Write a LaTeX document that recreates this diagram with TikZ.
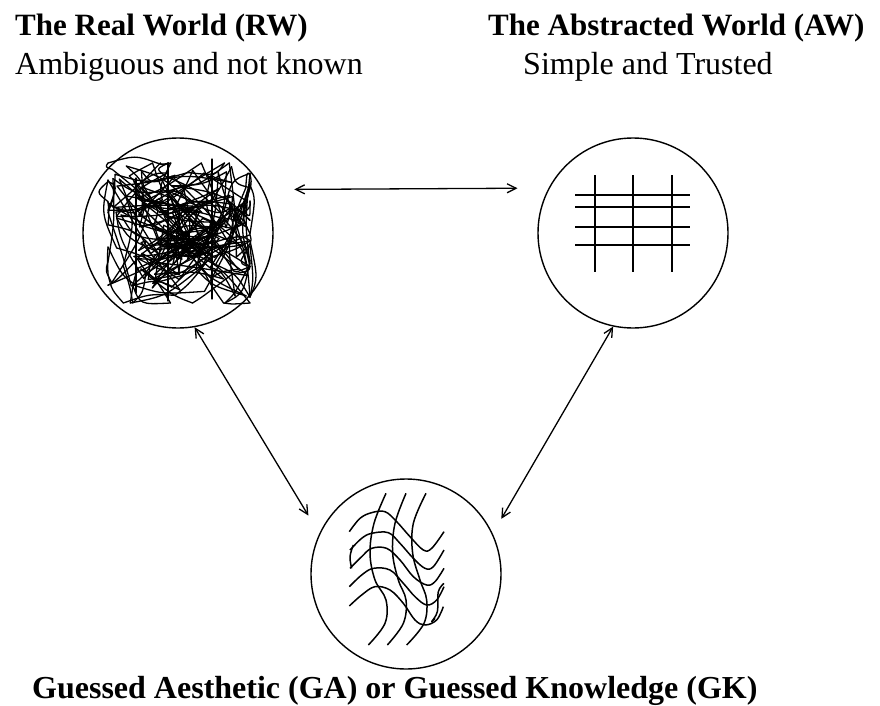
\documentclass[tikz,border=0pt]{standalone}
\usepackage{fontspec}
\setmainfont{Liberation Serif}
\usetikzlibrary{arrows.meta,positioning}

\begin{document}
\begin{tikzpicture}[x=1pt, y=-1pt,
    world/.style={draw, circle, line width=1.4pt, minimum size=190pt, inner sep=0pt},
    link/.style={{Straight Barb[length=9pt,width=9pt]}-{Straight Barb[length=9pt,width=9pt]}, line width=1.3pt},
    heading/.style={font=\fontsize{31}{36}\selectfont\bfseries, anchor=base west, inner sep=0pt},
    subheading/.style={font=\fontsize{32}{36}\selectfont, anchor=base west, inner sep=0pt}]
    \useasboundingbox (0,0) rectangle (880,706);

    % the three worlds
    \node[world] (rw) at (178,233) {};
    \node[world] (aw) at (633,233) {};
    \node[world] (ga) at (406,574) {};

    % labels
    \node[heading] (rwtitle) at (15,36) {The Real World (RW)};
    \node[subheading] (rwsub) at (15,75) {Ambiguous and not known};
    \node[heading] (awtitle) at (488,36) {The Abstracted World (AW)};
    \node[subheading] (awsub) at (523,75) {Simple and Trusted};
    \node[heading, font=\fontsize{32}{36}\selectfont\bfseries] (gatitle) at (32,698) {Guessed Aesthetic (GA) or Guessed Knowledge (GK)};

    % links
    \draw[link, shorten <=31pt, shorten >=31pt] (rw.27.6) -- (aw.152.4);
    \draw[link, shorten >=21pt] (rw.-80) -- (ga.155);
    \draw[link, shorten >=17pt] (aw.-102) -- (ga.25);

    % tangle inside the real world
    \begin{scope}[shift={(rw.center)}, line width=1.3pt, line join=round, line cap=round]
        \pgfmathsetseed{17}
        \def\rwx{0}\def\rwy{0}
        \foreach \i in {1,...,240}{
            \pgfmathsetmacro\newx{max(-70,min(72,0.5*\rwx+62*rand))}
            \pgfmathsetmacro\newy{max(-70,min(70,0.5*\rwy+62*rand))}
            \pgfmathsetmacro\ctlx{0.5*(\rwx+\newx)+12*rand}
            \pgfmathsetmacro\ctly{0.5*(\rwy+\newy)+12*rand}
            \draw (\rwx,\rwy) .. controls (\ctlx,\ctly) .. (\newx,\newy);
            \xdef\rwx{\newx}\xdef\rwy{\newy}
        }
        \foreach \x/\ya/\yb in {-10/-70/68, 34/-74/66, -42/-55/60}
            \draw (\x,\ya) -- (\x,\yb);
    \end{scope}

    % grid inside the abstracted world
    \begin{scope}[shift={(aw.center)}, line width=1.6pt]
        \foreach \x in {-38,0,39} \draw (\x,-58) -- (\x,39);
        \foreach \y in {-38,-26,-6,12} \draw (-58,\y) -- (57,\y);
    \end{scope}

    % bent grid inside the guessed world
    \begin{scope}[shift={(300,480)}, scale=1/3, line width=1.5pt, line join=round]
        \draw plot[smooth, tension=0.6] coordinates {(258,40) (222,130) (210,220) (225,300) (258,360) (255,430) (205,495)};
        \draw plot[smooth, tension=0.6] coordinates {(318,40) (285,130) (278,220) (295,300) (318,360) (310,430) (262,495)};
        \draw plot[smooth, tension=0.6] coordinates {(378,40) (340,130) (338,220) (360,300) (380,360) (372,430) (320,495)};
        \draw plot[smooth, tension=0.6] coordinates {(148,155) (180,115) (215,98) (255,95) (290,125) (330,170) (370,210) (395,205) (432,155)};
        \draw plot[smooth, tension=0.6] coordinates {(150,210) (185,175) (215,160) (265,158) (300,190) (340,235) (375,265) (400,260) (432,210)};
        \draw plot[smooth, tension=0.6] coordinates {(150,265) (185,230) (215,205) (260,205) (300,240) (340,290) (380,315) (405,305) (432,265)};
        \draw plot[smooth, tension=0.6] coordinates {(148,320) (185,285) (220,265) (270,270) (310,310) (345,350) (380,375) (410,360) (432,320)};
        \draw plot[smooth, tension=0.6] coordinates {(148,378) (185,345) (225,320) (270,330) (310,370) (345,420) (375,435) (410,420) (430,380)};
        \draw plot[smooth, tension=0.6] coordinates {(160,195) (150,230) (155,265)};
        \draw plot[smooth, tension=0.6] coordinates {(432,310) (415,335) (412,395) (395,425) (405,415)};
    \end{scope}
\end{tikzpicture}
\end{document}
